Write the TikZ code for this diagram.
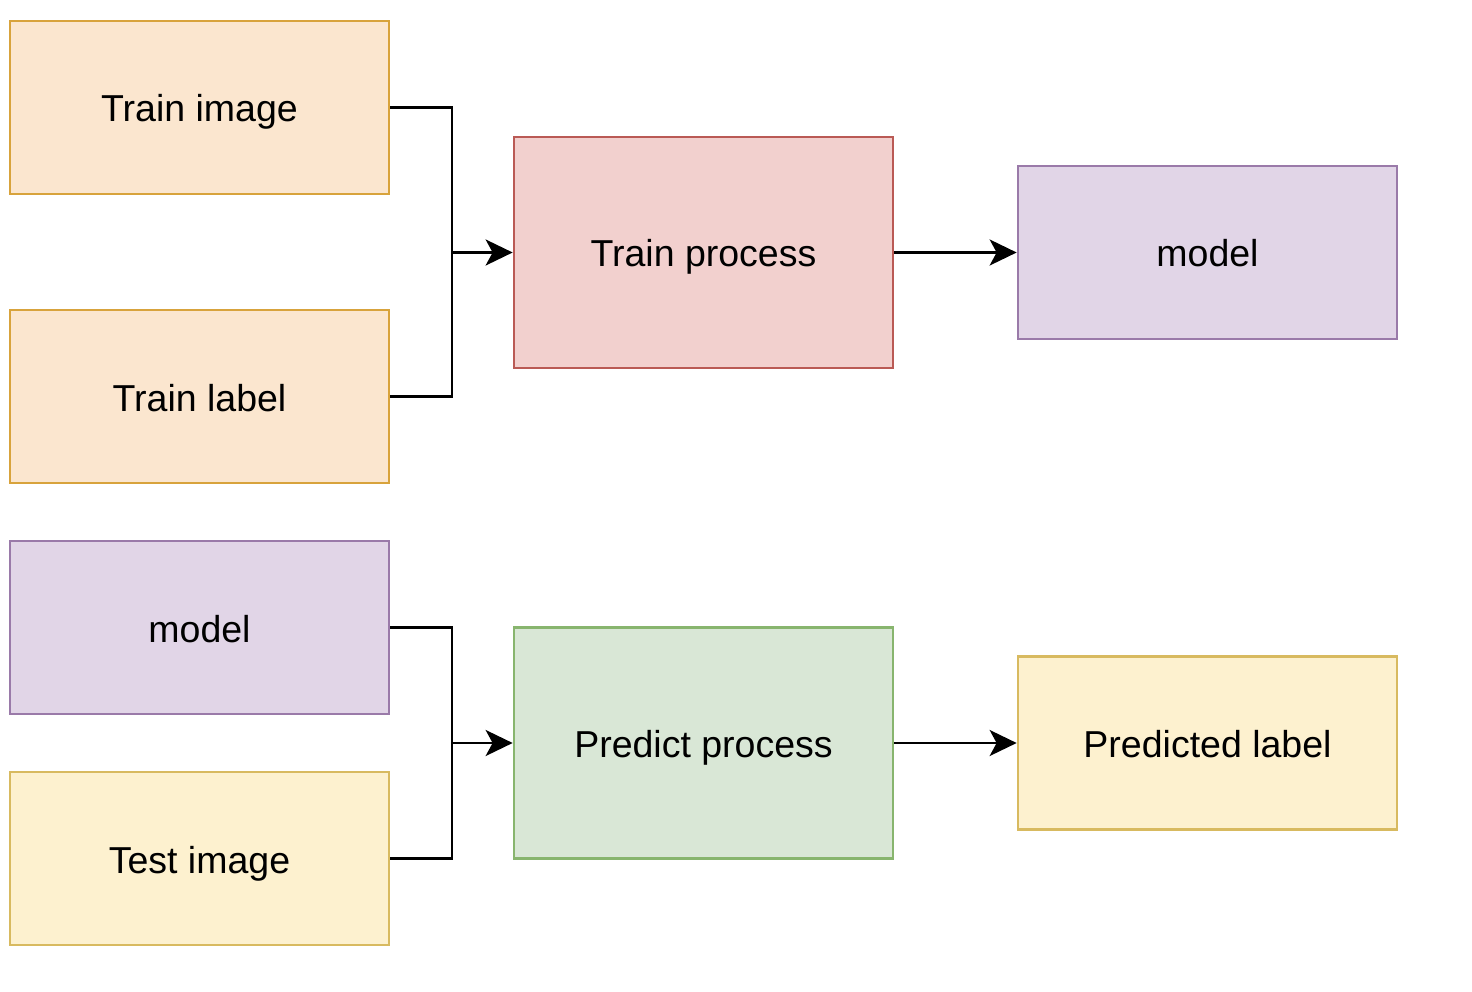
\documentclass[tikz,border=0pt]{standalone}
\usepackage{fontspec}
\setmainfont{Liberation Sans}
\usetikzlibrary{arrows.meta}
\definecolor{orfill}{HTML}{FBE6CF}
\definecolor{ordraw}{HTML}{D8A33C}
\definecolor{rdfill}{HTML}{F2D0CE}
\definecolor{rddraw}{HTML}{BA5A55}
\definecolor{pufill}{HTML}{E1D5E7}
\definecolor{pudraw}{HTML}{9A7AA9}
\definecolor{yefill}{HTML}{FDF1CF}
\definecolor{yedraw}{HTML}{D8BA60}
\definecolor{grfill}{HTML}{D9E7D6}
\definecolor{grdraw}{HTML}{88B56E}
\tikzset{
  box/.style={draw, line width=2.7pt, minimum width=379pt, minimum height=173pt, inner sep=0pt,
    text height=33pt, text depth=4pt, font=\fontsize{37.5}{42}\selectfont},
  bigbox/.style={box, minimum height=231pt},
  orbox/.style={box, fill=orfill, draw=ordraw},
  pubox/.style={box, fill=pufill, draw=pudraw},
  yebox/.style={box, fill=yefill, draw=yedraw},
  rdbox/.style={bigbox, fill=rdfill, draw=rddraw},
  grbox/.style={bigbox, fill=grfill, draw=grdraw},
  conn/.style={line width=2.5pt, -{Stealth[length=27pt, width=26pt, inset=7pt]}},
  plain/.style={line width=2.5pt},
}
\begin{document}
\begin{tikzpicture}[x=1pt, y=-1pt]
\useasboundingbox (0,0) rectangle (1472,992);
\node[orbox] (ti) at (199.5,107.5) {Train image};
\node[orbox] (tl) at (199.5,396.5) {Train label};
\node[rdbox] (tp) at (703.5,252.5) {Train process};
\node[pubox] (m1) at (1207.5,252.5) {model};
\node[pubox] (m2) at (199.5,627.5) {model};
\node[yebox] (te) at (199.5,858.5) {Test image};
\node[grbox] (pp) at (703.5,743) {Predict process};
\node[yebox] (pl) at (1207.5,743) {Predicted label};
\coordinate (j1) at (452,252.5);
\coordinate (j2) at (452,743);
\draw[plain] (ti.east) -| (j1);
\draw[plain] (tl.east) -| (j1);
\draw[conn] (j1) -- (tp.west);
\draw[conn] (tp.east) -- (m1.west);
\draw[plain] (m2.east) -| (j2);
\draw[plain] (te.east) -| (j2);
\draw[conn] (j2) -- (pp.west);
\draw[conn] (pp.east) -- (pl.west);
\end{tikzpicture}
\end{document}
